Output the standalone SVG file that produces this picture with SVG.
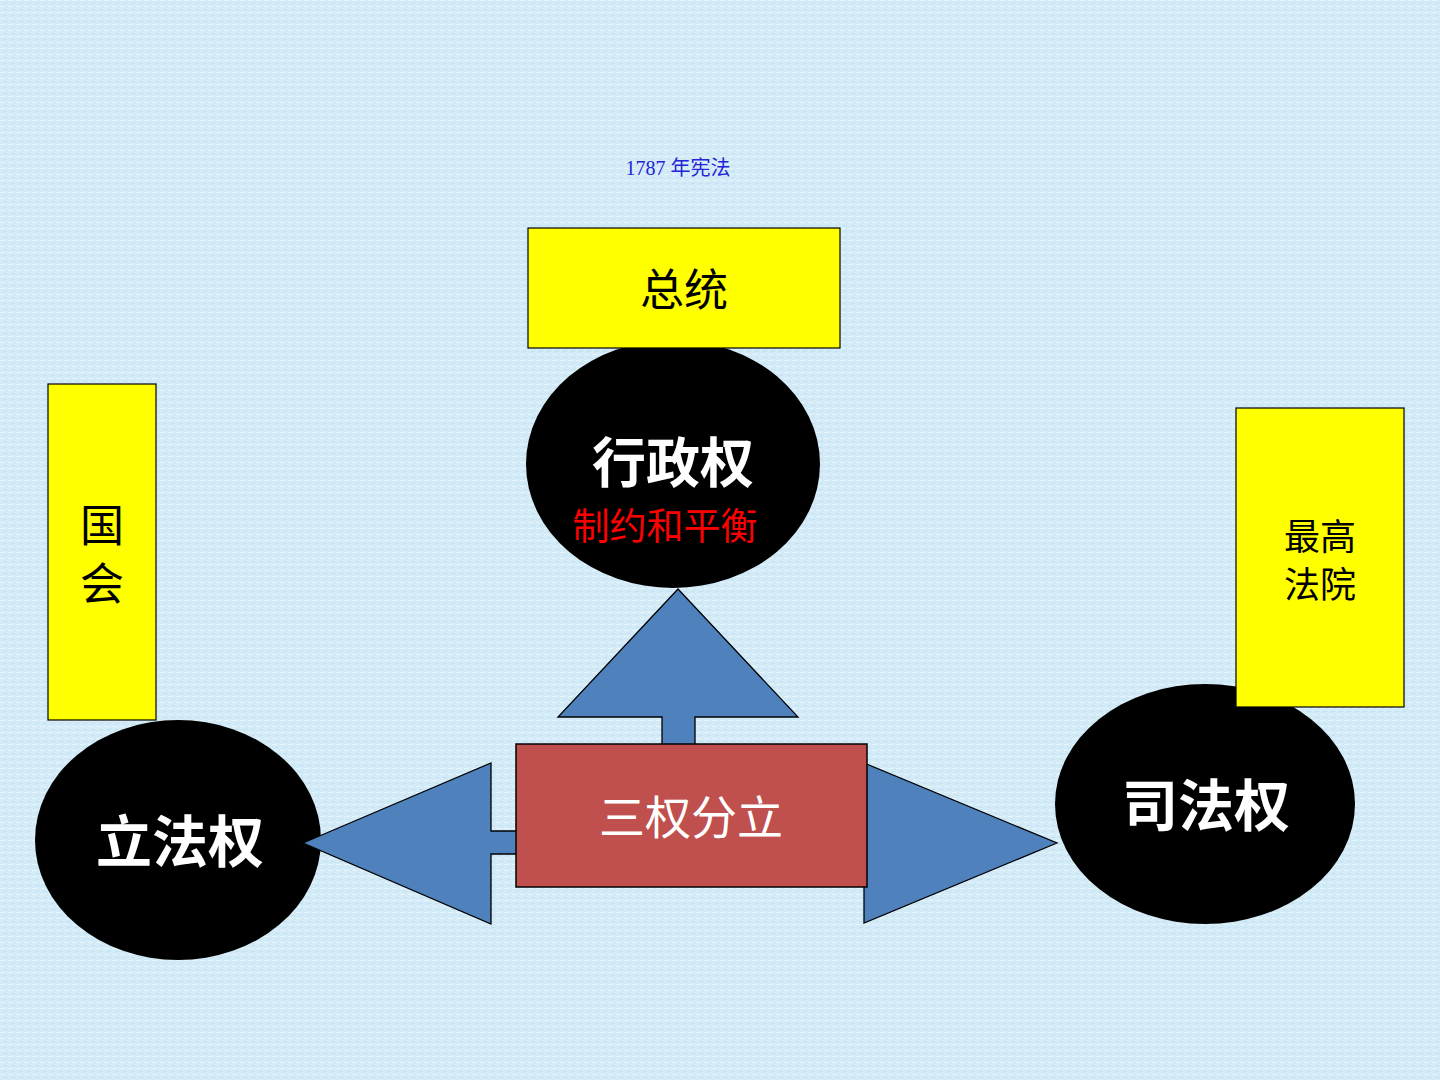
<svg xmlns="http://www.w3.org/2000/svg" width="1440" height="1080" viewBox="0 0 1440 1080">
<defs>
<pattern id="tex" width="8" height="6" patternUnits="userSpaceOnUse">
<rect width="8" height="6" fill="#d3ebf7"/>
<rect x="0" y="0" width="5" height="1" fill="#e6f4fb"/>
<rect x="3" y="3" width="4" height="1" fill="#c4e1f1"/>
</pattern>
</defs>
<style>
.cjk{font-family:"Noto Sans CJK SC","Noto Sans",sans-serif}
.ser{font-family:"Liberation Serif","Noto Sans CJK SC",serif}
.oval{fill:#000}
.ybox{fill:#ffff00;stroke:#000;stroke-width:1.2}
.arrow{fill:#4f81bd;stroke:#000;stroke-width:1.3;stroke-linejoin:miter}
.red{fill:#c0504d;stroke:#000;stroke-width:1.5}
.wt{fill:#fff;text-anchor:middle}
.bt{fill:#000;text-anchor:middle}
</style>
<rect width="1440" height="1080" fill="url(#tex)"/>
<text x="678" y="175" class="ser" font-size="20" fill="#2323d8" text-anchor="middle">1787 年宪法</text>

<g id="executive-oval"><ellipse class="oval" cx="673" cy="464" rx="147" ry="124"/></g>
<g id="legislative-oval"><ellipse class="oval" cx="178" cy="840" rx="143" ry="120"/></g>
<g id="judicial-oval"><ellipse class="oval" cx="1205" cy="804" rx="150" ry="120"/></g>

<g id="connectors">
<polygon class="arrow" points="678,589 798,717 695,717 695,760 662,760 662,717 558,717"/>
<polygon class="arrow" points="303,843 491,763 491,831 530,831 530,854 491,854 491,924"/>
<polygon class="arrow" points="1057,843 864,923 864,854 840,854 840,831 864,831 864,763"/>
</g>

<g id="separation"><rect class="red" x="516" y="744" width="351" height="143"/>
<text x="691" y="834" class="cjk wt" font-size="46">三权分立</text></g>

<g id="president"><rect class="ybox" x="528" y="228" width="312" height="120"/>
<text x="684" y="306" class="cjk bt" font-size="44">总统</text></g>
<g id="congress"><rect class="ybox" x="48" y="384" width="108" height="336"/>
<text x="102" y="542" class="cjk bt" font-size="44">国</text>
<text x="102" y="600" class="cjk bt" font-size="44">会</text></g>
<g id="court"><rect class="ybox" x="1236" y="408" width="168" height="299"/>
<text x="1320" y="550" class="cjk bt" font-size="36">最高</text>
<text x="1320" y="598" class="cjk bt" font-size="36">法院</text></g>

<g id="executive-label">
<text x="673" y="483" class="cjk wt" font-size="54" font-weight="bold">行政权</text>
<text x="665" y="540" class="cjk" font-size="37" fill="#ff0000" text-anchor="middle">制约和平衡</text>
</g>
<g id="legislative-label"><text x="180" y="862" class="cjk wt" font-size="56" font-weight="bold">立法权</text></g>
<g id="judicial-label"><text x="1206" y="826" class="cjk wt" font-size="56" font-weight="bold">司法权</text></g>
</svg>
